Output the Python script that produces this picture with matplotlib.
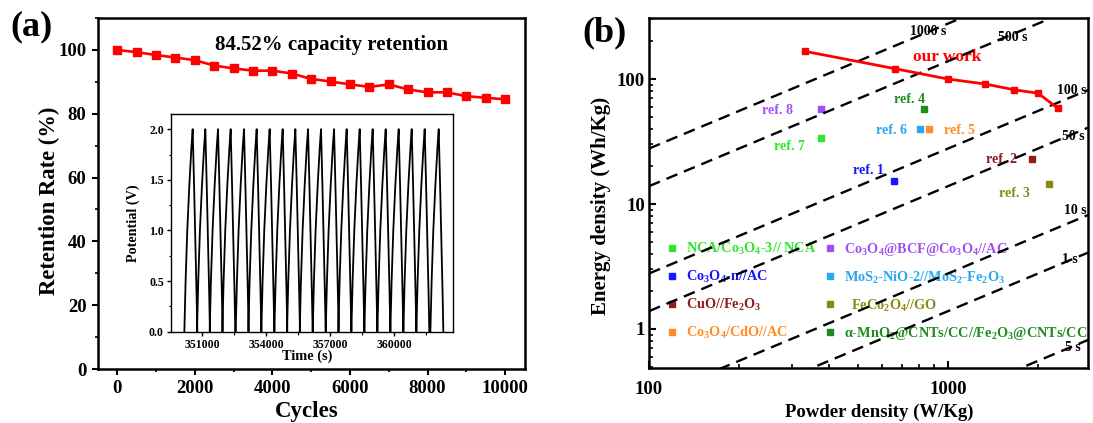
import numpy as np
import matplotlib
matplotlib.use("Agg")
import matplotlib.pyplot as plt
from matplotlib.ticker import MultipleLocator, FixedLocator, NullFormatter, FuncFormatter, LogLocator

plt.rcParams['font.family'] = ['Liberation Serif', 'DejaVu Serif']
plt.rcParams['font.weight'] = 'bold'
plt.rcParams['mathtext.fontset'] = 'custom'
plt.rcParams['mathtext.rm'] = 'Liberation Serif:bold'
plt.rcParams['mathtext.it'] = 'Liberation Serif:bold'
plt.rcParams['mathtext.bf'] = 'Liberation Serif:bold'
plt.rcParams['mathtext.default'] = 'rm'

# ---------------- Panel (a) data ----------------
cycles = [0, 500, 1000, 1500, 2000, 2500, 3000, 3500, 4000, 4500, 5000,
          5500, 6000, 6500, 7000, 7500, 8000, 8500, 9000, 9500, 10000]
retention = [100, 99.3, 98.4, 97.6, 96.8, 95.1, 94.2, 93.5, 93.5, 92.6, 90.9,
             90.1, 89.2, 88.4, 89.2, 87.6, 86.7, 86.7, 85.5, 85.0, 84.52]

# inset GCD: peak times (s) of the 20 displayed cycles and one-cycle shape
peak_times = [350563, 351156, 351750, 352344, 352969, 353563, 354172, 354782,
              355376, 355970, 356579, 357189, 357782, 358392, 359001, 359611,
              360220, 360830, 361439, 362096]
charge_dur = 390
discharge_dur = 217
chg_frac = [0.0, 0.15, 0.35, 0.6, 0.85, 1.0]
chg_V = [0.0, 0.5, 1.0, 1.45, 1.82, 2.0]
dis_frac = [0.0, 0.3, 0.6, 0.85, 1.0]
dis_V = [2.0, 1.45, 0.85, 0.35, 0.0]

# ---------------- Panel (b) data ----------------
our_P = [333, 667, 1000, 1333, 1667, 2000, 2333]
our_E = [166.5, 120.9, 100, 91.2, 82, 77, 58.3]

ref_names = ['ref. 1', 'ref. 2', 'ref. 3', 'ref. 4', 'ref. 5', 'ref. 6', 'ref. 7', 'ref. 8']
ref_P = [661, 1905, 2177, 833, 866, 808, 376, 376]
ref_E = [15.3, 22.9, 14.5, 57.8, 39.8, 39.8, 33.7, 57.5]
ref_colors = ['#1515ff', '#901c1c', '#8a8a10', '#1e8c1e', '#ff8c28', '#28a8f0', '#2ee62e', '#a050f0']
ref_legend = [r'Co$_3$O$_4$-n//AC', r'CuO//Fe$_2$O$_3$', r'  FeCo$_2$O$_4$//GO',
              r'α-MnO$_2$@CNTs/CC//Fe$_2$O$_3$@CNTs/CC', r'Co$_3$O$_4$/CdO//AC',
              r'MoS$_2$-NiO-2//MoS$_2$-Fe$_2$O$_3$', r'NCA/Co$_3$O$_4$-3// NCA',
              r'Co$_3$O$_4$@BCF@Co$_3$O$_4$//AC']
ref_label_P = [540, 1512, 1663, 741, 1088, 645, 294, 270]
ref_label_E = [18.4, 22.9, 12.2, 69.2, 38.6, 38.6, 28.7, 56.5]

iso_times = [1000, 500, 100, 50, 10, 5, 1]
iso_labels = ['1000 s', '500 s', '100 s', '50 s', '10 s', '1 s', '5 s']
iso_label_P = [858, 1650, 2597, 2619, 2660, 2558, 2619]
iso_label_E = [238, 217, 81.7, 34.5, 8.8, 3.57, 0.705]

W, H = 1093, 423
fig = plt.figure(figsize=(W / 100, H / 100), dpi=100)

def box(l, r, t, b):
    return [l / W, (H - b) / H, (r - l) / W, (b - t) / H]

# ---------------- Panel (a) ----------------
axA = fig.add_axes(box(97.7, 524.6, 18, 369))
axA.plot(cycles, retention, color='#ff0000', lw=1.9, marker='s', ms=5.5, zorder=3)
axA.set_xlim(-500, 10500)
axA.set_ylim(0, 110)
axA.xaxis.set_major_locator(MultipleLocator(2000))
axA.xaxis.set_minor_locator(MultipleLocator(1000))
axA.yaxis.set_major_locator(MultipleLocator(20))
axA.yaxis.set_minor_locator(MultipleLocator(10))
axA.tick_params(which='major', direction='out', length=4.5, width=1.5, labelsize=13.5)
axA.tick_params(which='minor', direction='out', length=2.5, width=1.2)
for s in axA.spines.values():
    s.set_linewidth(1.8)
axA.set_xlabel('Cycles', fontsize=16.5, fontweight='bold')
axA.set_ylabel('Retention Rate (%)', fontsize=16.3, fontweight='bold')
axA.xaxis.set_label_coords(0.489, -0.092)
axA.yaxis.set_label_coords(-0.088, 0.479)
axA.text(5527, 101.4, '84.52% capacity retention', fontsize=15, fontweight='bold',
         ha='center', va='center')

# inset
axI = fig.add_axes(box(170.7, 453.3, 114, 331.7))
t_all, v_all = [], []
for pk in peak_times:
    start = pk - charge_dur
    t_all.extend([start + f * charge_dur for f in chg_frac])
    v_all.extend(chg_V)
    t_all.extend([pk + f * discharge_dur for f in dis_frac[1:]])
    v_all.extend(dis_V[1:])
axI.plot(t_all, v_all, color='black', lw=1.3)
axI.set_xlim(349533, 362780)
axI.set_ylim(0, 2.15)
axI.xaxis.set_major_locator(FixedLocator([351000, 354000, 357000, 360000]))
axI.xaxis.set_minor_locator(FixedLocator([349500, 352500, 355500, 358500, 361500]))
axI.yaxis.set_major_locator(MultipleLocator(0.5))
axI.yaxis.set_minor_locator(MultipleLocator(0.25))
axI.yaxis.set_major_formatter(FuncFormatter(lambda v, p: f'{v:.1f}'))
axI.tick_params(which='major', direction='out', length=3, width=1, labelsize=8.5, pad=2)
axI.tick_params(which='minor', direction='out', length=1.8, width=0.8)
for s in axI.spines.values():
    s.set_linewidth(1.0)
axI.set_xlabel('Time (s)', fontsize=10.4, fontweight='bold')
axI.set_ylabel('Potential (V)', fontsize=10.2, fontweight='bold')
axI.xaxis.set_label_coords(0.482, -0.08)
axI.yaxis.set_label_coords(-0.109, 0.5)

fig.text(31.8 / W, 1 - 27 / H, '(a)', fontsize=26, fontweight='bold', ha='center', va='center')
fig.text(605 / W, 1 - 33 / H, '(b)', fontsize=26, fontweight='bold', ha='center', va='center')

# ---------------- Panel (b) ----------------
axB = fig.add_axes(box(649, 1088, 18, 368))
axB.set_xscale('log')
axB.set_yscale('log')
axB.set_xlim(100, 2939)
axB.set_ylim(0.487, 308)

Pl = np.array(axB.get_xlim())
for t in iso_times:
    axB.plot(Pl, Pl * t / 3600.0, color='black', lw=1.7, dashes=(5, 3), zorder=6)
for lab, px, ey in zip(iso_labels, iso_label_P, iso_label_E):
    axB.text(px, ey, lab, fontsize=10, fontweight='bold', ha='center', va='center', zorder=2)

axB.plot(our_P, our_E, color='#ff0000', lw=2.0, marker='s', ms=4.8, zorder=7)
axB.text(990, 150.7, 'our work', color='#ff0000', fontsize=12.5, fontweight='bold',
         ha='center', va='center', zorder=2)

handles = []
for p, e, c, lab in zip(ref_P, ref_E, ref_colors, ref_legend):
    h, = axB.plot([p], [e], linestyle='none', marker='s', ms=4.5, color=c, label=lab, zorder=5)
    handles.append(h)
for name, px, ey, c in zip(ref_names, ref_label_P, ref_label_E, ref_colors):
    axB.text(px, ey, name, color=c, fontsize=10, fontweight='bold', ha='center', va='center', zorder=2)

col1 = [handles[6], handles[0], handles[1], handles[4]]
col2 = [handles[7], handles[5], handles[2], handles[3]]
legs = []
for cols, x0 in ((col1, 0.0387), (col2, 0.399)):
    leg = axB.legend(handles=cols, loc='upper left', bbox_to_anchor=(x0, 0.364),
                     frameon=False, fontsize=10.3, handlelength=0.8, handletextpad=0.6,
                     labelspacing=0.83, borderpad=0, borderaxespad=0)
    for txt, h in zip(leg.get_texts(), cols):
        txt.set_color(h.get_color())
    leg.set_zorder(3)
    legs.append(leg)
axB.add_artist(legs[0])

axB.xaxis.set_major_locator(FixedLocator([100, 1000]))
axB.xaxis.set_minor_locator(LogLocator(base=10, subs=np.arange(2, 10)))
axB.xaxis.set_minor_formatter(NullFormatter())
axB.xaxis.set_major_formatter(FuncFormatter(lambda v, p: f'{v:g}'))
axB.yaxis.set_major_locator(FixedLocator([1, 10, 100]))
axB.yaxis.set_minor_locator(LogLocator(base=10, subs=np.arange(2, 10)))
axB.yaxis.set_minor_formatter(NullFormatter())
axB.yaxis.set_major_formatter(FuncFormatter(lambda v, p: f'{v:g}'))
axB.tick_params(which='major', direction='in', length=5, width=1.5, labelsize=13.5)
axB.tick_params(which='minor', direction='in', length=2.8, width=1.2)
axB.tick_params(axis='x', which='major', pad=9)
axB.tick_params(axis='y', which='major', pad=3)
for s in axB.spines.values():
    s.set_linewidth(1.8)
axB.set_xlabel('Powder density (W/Kg)', fontsize=13.5, fontweight='bold')
axB.set_ylabel('Energy density (Wh/Kg)', fontsize=15, fontweight='bold')
axB.xaxis.set_label_coords(0.5255, -0.101)
axB.yaxis.set_label_coords(-0.0875, 0.463)

fig.savefig('out.png', dpi=100, facecolor='white')
